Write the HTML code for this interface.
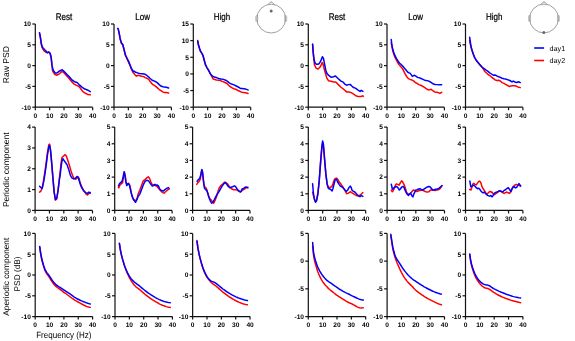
<!DOCTYPE html>
<html><head><meta charset="utf-8"><style>
html,body{margin:0;padding:0;background:#fff;}
body{width:575px;height:341px;overflow:hidden;}
svg{display:block;}
text{font-family:"Liberation Sans",sans-serif;fill:#000;text-rendering:geometricPrecision;}
.ax{stroke:#111;stroke-width:1.2;fill:none;}
.ty{font-size:6.6px;font-weight:bold;text-anchor:end;}
.tx{font-size:6.6px;font-weight:bold;text-anchor:middle;}
.tt{font-size:8px;text-anchor:middle;stroke:#000;stroke-width:0.2px;}
.yl{font-size:8.3px;text-anchor:middle;}
.xl{font-size:8px;text-anchor:middle;}
.lg{font-size:7.2px;}
.cb{stroke:#0000ff;stroke-width:1.5;fill:none;stroke-linejoin:round;stroke-linecap:round;}
.cr{stroke:#ff0000;stroke-width:1.5;fill:none;stroke-linejoin:round;stroke-linecap:round;}
.hd{stroke:#777;stroke-width:0.7;fill:none;}
</style></head><body>
<svg width="575" height="341" viewBox="0 0 575 341" xmlns="http://www.w3.org/2000/svg">
<path d="M35.3 24V107.2H92.7" class="ax"/>
<path d="M32.3 107.2H35.3" class="ax"/>
<path d="M32.3 86.4H35.3" class="ax"/>
<path d="M32.3 65.6H35.3" class="ax"/>
<path d="M32.3 44.8H35.3" class="ax"/>
<path d="M32.3 24H35.3" class="ax"/>
<path d="M35.3 107.2V110.2" class="ax"/>
<path d="M49.65 107.2V110.2" class="ax"/>
<path d="M64 107.2V110.2" class="ax"/>
<path d="M78.35 107.2V110.2" class="ax"/>
<path d="M92.7 107.2V110.2" class="ax"/>
<polyline points="39.52,33.28 40.45,38.32 41.27,44.19 42.09,47.47 43.03,49.35 44.44,51.23 45.96,52.4 47.37,52.87 48.66,52.28 49.48,52.75 50.3,54.28 51.23,58.26 52.58,70.97 54.52,74.19 57.1,75.23 59.68,73.55 61.61,71.61 63.55,72.26 66.13,75.23 68.71,78.06 71.29,81.29 73.87,83.87 76.45,85.42 79.03,86.45 80.97,89.03 82.9,91.61 85.48,93.29 88.06,94.58 90.26,94.84" class="cr"/>
<polyline points="39.52,32.69 40.45,37.38 41.27,43.25 42.09,46.53 43.03,47.94 44.44,49.47 45.96,51.11 47.37,52.63 48.66,52.05 49.48,52.4 50.3,53.81 51.23,57.91 51.94,65.16 53.23,70.32 55.16,72.9 57.1,72.9 59.68,70.97 62.26,69.68 64.19,71.61 66.77,74.19 69.35,76.77 71.94,80 74.52,81.68 77.1,82.58 79.68,85.16 82.26,87.35 84.84,89.03 87.42,89.94 90.26,91.61" class="cb"/>
<path d="M114 24V107.2H171.4" class="ax"/>
<path d="M111 107.2H114" class="ax"/>
<path d="M111 86.4H114" class="ax"/>
<path d="M111 65.6H114" class="ax"/>
<path d="M111 44.8H114" class="ax"/>
<path d="M111 24H114" class="ax"/>
<path d="M114 107.2V110.2" class="ax"/>
<path d="M128.35 107.2V110.2" class="ax"/>
<path d="M142.7 107.2V110.2" class="ax"/>
<path d="M157.05 107.2V110.2" class="ax"/>
<path d="M171.4 107.2V110.2" class="ax"/>
<polyline points="118.39,29.87 119.12,33.09 120.15,38.96 121.32,43.06 122.78,44.97 123.95,49.66 125.41,55.52 127.17,59.19 128.63,62.42 130.1,65.79 131.56,69.45 133.02,72.39 134,73.49 135.17,75.01 136.35,76.19 138.11,75.25 139.87,75.84 141.62,76.19 143.38,76.42 145.14,77.6 146.9,78.18 148.66,79.35 150.42,81.7 152.18,84.05 153.94,85.22 155.7,86.39 157.46,87.92 159.22,89.56 160.98,90.73 162.74,91.91 164.5,92.61 166.26,92.61 168.6,93.08" class="cr"/>
<polyline points="117.6,28.45 118.1,28.4 119.12,32.8 120.15,38.66 121.32,42.77 122.78,44.53 123.95,48.93 125.41,54.79 127.17,58.46 128.63,61.39 130.1,65.06 131.56,68.72 133.32,71.65 134,71.14 135.76,72.32 137.52,72.9 139.28,73.49 141.04,73.84 142.8,73.84 145.14,74.31 146.9,75.48 148.66,77.01 150.42,78.77 152.18,80.18 153.94,80.88 155.7,81.7 157.46,82.87 159.22,84.63 160.98,86.04 162.74,86.74 164.5,86.98 166.26,87.21 168.6,87.92" class="cb"/>
<path d="M193.3 24V107.2H250.7" class="ax"/>
<path d="M190.3 107.2H193.3" class="ax"/>
<path d="M190.3 90.56H193.3" class="ax"/>
<path d="M190.3 73.92H193.3" class="ax"/>
<path d="M190.3 57.28H193.3" class="ax"/>
<path d="M190.3 40.64H193.3" class="ax"/>
<path d="M190.3 24H193.3" class="ax"/>
<path d="M193.3 107.2V110.2" class="ax"/>
<path d="M207.65 107.2V110.2" class="ax"/>
<path d="M222 107.2V110.2" class="ax"/>
<path d="M236.35 107.2V110.2" class="ax"/>
<path d="M250.7 107.2V110.2" class="ax"/>
<polyline points="197.66,40.4 198.39,44.5 199.56,48.46 200.59,51.4 202.05,53.6 203.07,55.79 204.24,60.19 205.41,64.59 206.88,67.52 208.63,70.46 210.1,73.39 211.56,75.88 213.02,78.82 214,79.35 216.35,79.94 218.69,80.18 220.45,80.53 222.21,81.35 224.56,82.29 226.9,83.46 229.25,85.81 231.6,87.57 233.94,88.74 236.29,89.56 238.63,90.73 240.98,91.91 243.33,92.61 245.67,92.84 248.02,93.43" class="cr"/>
<polyline points="197.66,41.13 198.39,44.8 199.56,48.46 200.59,51.4 202.05,53.6 203.07,55.79 204.24,60.19 205.41,64.59 206.88,67.52 208.63,70.46 210.1,73.39 211.56,75.3 213.02,76.32 214,77.01 216.35,77.6 218.69,78.53 221.04,79 223.38,79.35 225.73,80.18 227.49,81.35 229.25,82.87 231.6,84.05 233.94,84.87 236.29,86.04 238.63,87.21 240.39,88.39 242.15,88.39 243.91,88.74 245.67,89.09 248.02,89.91" class="cb"/>
<path d="M308.3 24V107.2H365.7" class="ax"/>
<path d="M305.3 107.2H308.3" class="ax"/>
<path d="M305.3 86.4H308.3" class="ax"/>
<path d="M305.3 65.6H308.3" class="ax"/>
<path d="M305.3 44.8H308.3" class="ax"/>
<path d="M305.3 24H308.3" class="ax"/>
<path d="M308.3 107.2V110.2" class="ax"/>
<path d="M322.65 107.2V110.2" class="ax"/>
<path d="M337 107.2V110.2" class="ax"/>
<path d="M351.35 107.2V110.2" class="ax"/>
<path d="M365.7 107.2V110.2" class="ax"/>
<polyline points="312.6,44.28 313.13,51.67 313.65,56.95 314.45,64.87 316.03,68.04 317.88,69.09 319.72,67.51 321.31,64.87 322.1,62.49 323.16,64.34 324.48,70.15 326.85,78.06 328.43,80.7 331.07,81.23 333.71,82.02 335.56,82.02 336,82.29 338.34,84.63 340.69,86.98 343.03,88.74 344.79,90.26 346.55,91.91 348.89,91.91 351.24,92.61 353.58,94.02 355.93,95.78 358.27,96.6 360.62,96.6 362.96,95.78 363.27,96.54" class="cr"/>
<polyline points="312.6,44.28 313.13,51.67 313.92,59.06 314.97,62.76 316.29,64.34 317.88,64.34 319.2,63.55 320.78,60.91 322.36,56.69 323.42,58.27 324.48,63.55 325.79,70.15 326.85,73.31 328.7,75.43 331.34,77.27 333.45,76.74 335.56,75.95 336,76.42 338.34,78.77 340.69,80.88 343.03,82.05 344.79,84.05 346.55,85.22 348.31,84.63 350.07,84.4 351.82,86.04 353.58,87.57 355.34,88.15 357.1,89.33 358.86,90.73 360.03,91.44 361.2,90.26 362.96,91.44" class="cb"/>
<path d="M387 24V107.2H444.4" class="ax"/>
<path d="M384 107.2H387" class="ax"/>
<path d="M384 86.4H387" class="ax"/>
<path d="M384 65.6H387" class="ax"/>
<path d="M384 44.8H387" class="ax"/>
<path d="M384 24H387" class="ax"/>
<path d="M387 107.2V110.2" class="ax"/>
<path d="M401.35 107.2V110.2" class="ax"/>
<path d="M415.7 107.2V110.2" class="ax"/>
<path d="M430.05 107.2V110.2" class="ax"/>
<path d="M444.4 107.2V110.2" class="ax"/>
<polyline points="391.22,42.9 392.1,47.6 393.12,51.99 394.59,56.39 396.05,59.33 397.51,62.26 398.98,64.46 400.88,66.66 402.63,68.86 404.1,71.79 405.56,74.72 407.02,76.92 408.49,78.68 410,79.35 411.76,79.94 413.52,80.88 415.28,82.52 417.04,83.46 418.8,84.63 420.56,85.22 422.32,86.04 424.08,87.21 425.84,88.39 427.6,89.56 429.35,89.91 431.11,89.33 432.87,90.73 434.63,91.91 436.39,92.26 438.15,92.61 439.91,93.43 441.67,92.26" class="cr"/>
<polyline points="391.22,39.53 391.66,43.2 392.39,47.6 393.56,51.99 395.02,55.66 396.49,58.59 397.95,60.79 399.41,62.99 401.17,64.46 402.63,65.92 404.1,67.83 405.56,69.59 407.02,71.35 408.49,72.82 410,73.14 411.17,74.66 412.35,76.42 414.11,75.25 415.87,76.19 417.62,77.36 419.38,77.83 421.14,78.53 422.9,79.35 424.66,80.18 426.42,80.53 428.18,80.88 429.94,81.7 431.7,82.87 433.46,84.05 435.22,84.4 436.98,84.63 438.74,84.87 441.67,84.63" class="cb"/>
<path d="M465.5 24V107.2H522.9" class="ax"/>
<path d="M462.5 107.2H465.5" class="ax"/>
<path d="M462.5 86.4H465.5" class="ax"/>
<path d="M462.5 65.6H465.5" class="ax"/>
<path d="M462.5 44.8H465.5" class="ax"/>
<path d="M462.5 24H465.5" class="ax"/>
<path d="M465.5 107.2V110.2" class="ax"/>
<path d="M479.85 107.2V110.2" class="ax"/>
<path d="M494.2 107.2V110.2" class="ax"/>
<path d="M508.55 107.2V110.2" class="ax"/>
<path d="M522.9 107.2V110.2" class="ax"/>
<polyline points="469.66,40.26 470.39,44.66 471.56,49.06 473.02,53.46 474.49,57.13 476.24,60.06 478,62.55 479.9,64.9 481.8,66.66 483.56,69.3 485.02,71.79 486.78,73.26 488,74.35 489.76,75.53 491.52,77.05 493.28,78.46 495.04,79.87 496.8,80.57 498.56,80.22 500.32,81.04 502.08,82.57 503.84,83.39 505.6,84.33 507.35,85.26 509.11,86.44 510.87,86.09 512.63,85.73 514.39,85.73 516.15,86.09 517.91,86.91 520.26,87.61" class="cr"/>
<polyline points="469.66,37.33 470.39,42.46 471.12,46.86 472.15,50.53 473.32,54.19 474.78,57.86 476.54,60.79 478.44,62.99 480.34,65.19 482.1,67.39 483.85,68.42 485.76,69.88 488,71.42 489.76,72.83 491.52,74 493.28,75.18 495.04,74.94 496.8,75.88 498.56,76.7 500.32,77.29 502.08,78.23 503.84,78.7 505.6,79.05 507.35,79.63 509.11,80.22 510.87,81.04 512.05,81.98 513.22,81.04 514.98,81.98 516.74,82.57 518.5,81.74 520.26,82.57" class="cb"/>
<path d="M35.1 127.1V210.45H92.5" class="ax"/>
<path d="M32.1 210.45H35.1" class="ax"/>
<path d="M32.1 189.61H35.1" class="ax"/>
<path d="M32.1 168.77H35.1" class="ax"/>
<path d="M32.1 147.94H35.1" class="ax"/>
<path d="M32.1 127.1H35.1" class="ax"/>
<path d="M35.1 210.45V213.45" class="ax"/>
<path d="M49.45 210.45V213.45" class="ax"/>
<path d="M63.8 210.45V213.45" class="ax"/>
<path d="M78.15 210.45V213.45" class="ax"/>
<path d="M92.5 210.45V213.45" class="ax"/>
<polyline points="39.6,192.15 40.92,191.09 42.24,187.66 43.56,180.54 44.88,171.83 46.2,162.59 47.52,152.03 48.84,144.64 49.63,144.11 50.42,149.39 51.48,161.27 52.79,177.11 54.11,192.15 55.43,200.07 56.75,199.01 58.07,190.3 59.39,178.43 60.48,169.19 60.97,163.55 61.94,157.58 63.55,155.97 65.16,154.68 66.45,156.29 67.74,160.32 69.35,165.16 70.97,170.81 72.58,175.65 74.19,178.55 75.81,179.19 77.74,177.26 79.03,178.06 80.16,182.9 81.77,186.94 83.39,190.16 85,192.1 86.13,194.19 87.42,195 88.71,193.71 90.32,192.58" class="cr"/>
<polyline points="39.6,186.34 40.92,187.66 42.24,188.45 43.56,182.38 44.88,174.47 46.2,165.23 47.52,154.67 48.84,146.75 49.63,145.43 50.42,149.39 51.48,159.95 52.79,175.79 54.11,191.62 55.43,199.54 56.75,198.22 58.07,190.3 59.39,179.74 60.32,174.03 60.81,169.19 61.94,161.13 62.9,158.71 64.03,160.32 65.65,162.74 67.26,165.16 68.87,170 70.48,175.65 72.1,178.06 73.71,178.87 75.32,178.55 76.94,176.45 78.06,176.94 79.35,181.29 80.65,185.32 82.26,188.55 83.87,190.97 85.48,192.58 87.42,193.39 89.03,192.1 90.32,193.06" class="cb"/>
<path d="M114.7 127.1V210.45H172.1" class="ax"/>
<path d="M111.7 210.45H114.7" class="ax"/>
<path d="M111.7 193.78H114.7" class="ax"/>
<path d="M111.7 177.11H114.7" class="ax"/>
<path d="M111.7 160.44H114.7" class="ax"/>
<path d="M111.7 143.77H114.7" class="ax"/>
<path d="M111.7 127.1H114.7" class="ax"/>
<path d="M114.7 210.45V213.45" class="ax"/>
<path d="M129.05 210.45V213.45" class="ax"/>
<path d="M143.4 210.45V213.45" class="ax"/>
<path d="M157.75 210.45V213.45" class="ax"/>
<path d="M172.1 210.45V213.45" class="ax"/>
<polyline points="118.39,187.66 118.75,187.87 119.45,186.11 120.27,184.35 121.45,183.77 122.62,182.6 123.44,176.73 124.38,172.04 125.31,176.14 126.13,182.6 127.3,184.94 128.48,183.18 129.65,184.94 130.47,188.46 131.41,193.15 132.58,197.26 133.75,199.6 134.92,200.78 136.09,200.19 137.27,197.84 138,194.33 139.76,190.22 141.52,185.53 143.28,180.84 145.04,179.66 146.79,177.9 148.32,176.73 149.73,178.84 150.9,182.01 152.07,184.35 153.83,184.94 155.59,185.53 157.35,186.7 159.11,189.05 160.87,191.04 162.63,192.57 164.03,193.15 165.56,191.74 167.32,190.22 169.07,189.05" class="cr"/>
<polyline points="118.39,185.82 118.75,185.53 119.45,183.77 120.62,182.6 122.03,181.42 123.2,176.73 124.14,171.8 124.96,175.56 125.78,181.42 126.72,185.53 127.89,183.53 129.06,184.35 130,187.29 130.82,191.39 131.99,196.09 133.16,199.02 134.34,200.78 135.51,202.3 136.68,200.19 138,196.67 139.76,194.33 141.52,189.63 143.28,184.94 145.04,181.42 146.79,180.25 148.55,180.84 149.73,182.6 150.9,184.35 152.31,186.11 153.83,185.53 155,184.35 156.18,185.18 157.35,184.94 158.52,186.11 159.69,189.05 161.45,190.57 163.21,191.04 164.97,189.63 166.73,188.46 168.25,187.52 169.07,188.23" class="cb"/>
<path d="M192.6 127.1V210.45H250" class="ax"/>
<path d="M189.6 210.45H192.6" class="ax"/>
<path d="M189.6 193.78H192.6" class="ax"/>
<path d="M189.6 177.11H192.6" class="ax"/>
<path d="M189.6 160.44H192.6" class="ax"/>
<path d="M189.6 143.77H192.6" class="ax"/>
<path d="M189.6 127.1H192.6" class="ax"/>
<path d="M192.6 210.45V213.45" class="ax"/>
<path d="M206.95 210.45V213.45" class="ax"/>
<path d="M221.3 210.45V213.45" class="ax"/>
<path d="M235.65 210.45V213.45" class="ax"/>
<path d="M250 210.45V213.45" class="ax"/>
<polyline points="196.76,184.35 197.93,182.6 199.1,181.42 200.27,179.08 201.45,172.04 202.03,170.28 202.97,176.73 203.79,184.35 204.96,187.29 206.13,187.87 207.3,191.39 208.48,195.5 210,199.02 211.41,200.19 212.81,202.54 213.75,203.12 214.92,200.78 216.33,197.26 218,191.39 219.17,187.87 220.93,185.53 222.69,184 224.45,182.36 225.62,182.36 227.38,183.77 228.55,185.53 230.31,187.87 232.07,189.05 233.83,189.87 235.36,189.63 236.76,189.87 238.52,191.04 240.28,192.21 241.45,191.04 242.63,190.22 244.38,189.05 246.14,187.87 247.9,187.29" class="cr"/>
<polyline points="197.11,181.42 198.28,179.66 199.69,178.49 200.86,174.38 201.8,169.46 202.62,172.04 203.44,180.25 204.38,187.87 205.55,189.63 206.72,190.22 207.89,193.74 209.06,197.84 210.23,200.78 211.64,203.12 212.81,202.3 214.34,199.6 215.86,196.67 217.5,193.74 218,193.15 219.17,191.39 220.35,189.05 222.1,186.11 223.86,183.77 225.04,182.6 226.44,183.77 227.97,186.11 229.49,187.52 230.9,187.29 232.66,186.7 234.42,185.88 235.59,186.7 236.76,188.46 238.17,190.22 239.69,191.39 240.87,191.74 242.04,189.05 243.56,188.46 244.97,187.29 246.14,187.05 247.9,187.87" class="cb"/>
<path d="M308.3 127.1V210.45H365.7" class="ax"/>
<path d="M305.3 210.45H308.3" class="ax"/>
<path d="M305.3 193.78H308.3" class="ax"/>
<path d="M305.3 177.11H308.3" class="ax"/>
<path d="M305.3 160.44H308.3" class="ax"/>
<path d="M305.3 143.77H308.3" class="ax"/>
<path d="M305.3 127.1H308.3" class="ax"/>
<path d="M308.3 210.45V213.45" class="ax"/>
<path d="M322.65 210.45V213.45" class="ax"/>
<path d="M337 210.45V213.45" class="ax"/>
<path d="M351.35 210.45V213.45" class="ax"/>
<path d="M365.7 210.45V213.45" class="ax"/>
<polyline points="312.6,192.15 313.39,195.58 314.45,199.01 315.5,201.65 316.56,200.07 317.88,192.94 319.2,181.06 320.52,163.91 321.84,148.07 322.63,142.79 323.42,146.23 324.48,158.63 325.79,173.67 327.11,184.23 328.43,187.66 330,187.29 331.76,186.7 332.93,183.77 334.1,180.25 335.28,178.49 336.8,178.14 338.21,180.25 339.62,182.6 341.14,184.35 342.67,186.7 344.07,189.05 345.48,191.39 346.65,193.74 347.83,193.39 349,192.57 350.52,191.74 352.05,192.92 353.46,193.74 355.22,194.91 356.98,195.73 358.73,196.09 360.26,194.91 361.67,193.74 362.84,192.57" class="cr"/>
<polyline points="312.6,183.7 313.39,192.94 314.45,199.54 315.5,202.18 316.56,200.86 317.88,194.26 319.2,181.06 320.52,162.59 321.84,146.75 322.63,140.95 323.42,144.11 324.48,157.31 325.79,173.15 327.11,183.7 328.43,188.45 330,189.05 331.17,189.87 332.11,191.04 332.93,188.46 334.1,183.77 335.28,179.66 336.45,179.08 337.62,182.01 339.15,184.35 340.56,186.35 341.73,186.7 343.14,187.87 344.66,189.63 346.19,191.39 347.59,190.22 348.77,187.87 350.17,186.11 351.11,187.29 352.05,190.22 353.46,191.39 354.86,191.98 356.39,193.74 358.15,195.5 359.91,196.67 361.08,195.5 362.84,196.44" class="cb"/>
<path d="M387.1 127.1V210.45H444.5" class="ax"/>
<path d="M384.1 210.45H387.1" class="ax"/>
<path d="M384.1 193.78H387.1" class="ax"/>
<path d="M384.1 177.11H387.1" class="ax"/>
<path d="M384.1 160.44H387.1" class="ax"/>
<path d="M384.1 143.77H387.1" class="ax"/>
<path d="M384.1 127.1H387.1" class="ax"/>
<path d="M387.1 210.45V213.45" class="ax"/>
<path d="M401.45 210.45V213.45" class="ax"/>
<path d="M415.8 210.45V213.45" class="ax"/>
<path d="M430.15 210.45V213.45" class="ax"/>
<path d="M444.5 210.45V213.45" class="ax"/>
<polyline points="391.29,190.32 392.32,191.76 393.34,190.53 394.37,187.96 395.4,185.19 396.42,183.86 397.76,184.37 399.1,185.19 400.33,182.83 401.56,180.78 402.38,181.29 403.41,183.34 404.44,185.4 405.47,188.48 406.49,192.07 407.52,193.61 408.55,194.43 409.78,194.12 410.81,193.09 411.84,191.76 413.17,190.32 414,190.01 415.03,191.04 416.57,191.55 418.11,191.04 419.65,190.53 421.19,190.32 422.73,190.01 424.27,191.04 425.81,191.76 427.35,192.07 428.89,191.76 429.92,190.53 430.95,190.01 432.28,189.71 433.72,190.01 435.06,190.53 436.6,190.01 438.14,189.71 439.68,188.99 440.91,187.45 441.94,185.91" class="cr"/>
<polyline points="391.29,184.16 391.9,186.94 392.32,189.3 393.14,188.48 394.16,187.65 395.4,186.94 396.73,186.42 398.07,187.96 399.3,190.01 400.33,188.99 401.56,187.24 402.9,186.42 403.92,187.24 404.95,190.01 406.29,192.79 407.52,194.63 408.55,195.45 409.58,193.61 410.6,193.09 411.84,195.66 412.86,196.89 414,193.61 414.82,192.07 415.85,190.01 417.08,189.71 418.62,188.99 419.96,188.68 421.19,189.5 422.73,190.01 424.27,188.99 425.81,187.96 427.35,186.94 428.89,186.42 430.23,186.94 431.46,188.48 432.69,190.01 434.03,190.01 435.57,189.3 437.11,188.99 438.65,188.48 439.89,187.45 441.22,186.22 441.94,185.6" class="cb"/>
<path d="M465.5 127.1V210.45H522.9" class="ax"/>
<path d="M462.5 210.45H465.5" class="ax"/>
<path d="M462.5 193.78H465.5" class="ax"/>
<path d="M462.5 177.11H465.5" class="ax"/>
<path d="M462.5 160.44H465.5" class="ax"/>
<path d="M462.5 143.77H465.5" class="ax"/>
<path d="M462.5 127.1H465.5" class="ax"/>
<path d="M465.5 210.45V213.45" class="ax"/>
<path d="M479.85 210.45V213.45" class="ax"/>
<path d="M494.2 210.45V213.45" class="ax"/>
<path d="M508.55 210.45V213.45" class="ax"/>
<path d="M522.9 210.45V213.45" class="ax"/>
<polyline points="469.6,189.51 470.11,189.5 470.93,190.01 471.65,187.96 472.68,184.37 473.71,183.34 475.04,184.37 476.27,184.88 477.3,183.34 478.33,181.8 479.36,181.09 480.38,181.8 481.21,183.86 481.92,186.42 482.95,188.48 483.98,190.01 485.01,191.55 486.03,193.4 487.06,194.12 488.09,193.09 489.42,191.76 490.66,191.55 491.68,192.38 492,192.07 493.03,193.61 494.26,194.63 495.6,193.81 497.14,192.58 498.68,191.35 500.01,190.53 501.45,191.55 502.79,192.79 504.12,193.4 505.56,192.58 506.89,192.07 508.23,192.79 509.46,193.4 510.49,192.07 511.52,190.01 512.54,187.65 513.57,186.22 514.8,185.19 516.14,184.37 517.47,184.88 518.91,185.19 520.25,186.22" class="cr"/>
<polyline points="469.9,181.09 470.32,184.37 470.93,186.94 471.65,186.42 472.68,185.4 473.71,185.19 475.04,186.22 476.27,187.65 477.51,188.68 478.84,188.27 479.87,189.3 480.9,191.04 481.92,192.07 482.95,192.79 484.29,192.07 485.52,193.4 486.55,194.63 487.78,195.45 488.81,195.87 489.84,196.17 490.86,195.45 492,196.89 493.03,195.66 494.05,193.61 495.6,192.38 497.14,192.07 498.68,191.04 500.22,191.04 501.76,191.76 503.09,191.55 504.33,190.32 505.87,189.5 507.2,188.27 508.23,187.65 509.26,188.99 510.28,190.53 511,191.55 512.03,188.99 513.06,187.24 514.08,186.63 515.42,187.96 516.65,187.24 517.89,185.4 518.91,183.55 519.94,184.88 520.76,185.91" class="cb"/>
<path d="M35.2 233.4V316.6H92.6" class="ax"/>
<path d="M32.2 316.6H35.2" class="ax"/>
<path d="M32.2 295.8H35.2" class="ax"/>
<path d="M32.2 275H35.2" class="ax"/>
<path d="M32.2 254.2H35.2" class="ax"/>
<path d="M32.2 233.4H35.2" class="ax"/>
<path d="M35.2 316.6V319.6" class="ax"/>
<path d="M49.55 316.6V319.6" class="ax"/>
<path d="M63.9 316.6V319.6" class="ax"/>
<path d="M78.25 316.6V319.6" class="ax"/>
<path d="M92.6 316.6V319.6" class="ax"/>
<polyline points="39.66,246.76 40.66,253.8 41.66,259.02 42.66,263.04 43.66,266.58 44.66,269.64 45.66,271.97 46.66,273.67 47.66,275.03 48.66,276.37 49.66,277.87 50.66,279.51 51.66,281.14 52.66,282.66 53.66,283.98 54.66,285.12 55.66,286.09 56.66,286.93 57.66,287.69 58.66,288.4 59.66,289.1 60.66,289.81 61.66,290.55 62.66,291.3 63.66,292.05 64.66,292.79 65.66,293.51 66.66,294.24 67.66,294.98 68.66,295.73 69.66,296.48 70.66,297.24 71.66,297.99 72.66,298.73 73.66,299.43 74.66,300.07 75.66,300.66 76.66,301.21 77.66,301.75 78.66,302.3 79.66,302.86 80.66,303.44 81.66,303.99 82.66,304.53 83.66,305.04 84.66,305.51 85.66,305.96 86.66,306.36 87.66,306.71 88.66,307 89.66,307.23 90.25,307.39" class="cr"/>
<polyline points="39.66,246.47 40.66,253.1 41.66,258.26 42.66,262.12 43.66,265.52 44.66,268.46 45.66,270.7 46.66,272.34 47.66,273.64 48.66,274.9 49.66,276.31 50.66,277.86 51.66,279.42 52.66,280.88 53.66,282.19 54.66,283.33 55.66,284.31 56.66,285.15 57.66,285.89 58.66,286.57 59.66,287.21 60.66,287.85 61.66,288.5 62.66,289.16 63.66,289.82 64.66,290.49 65.66,291.15 66.66,291.8 67.66,292.44 68.66,293.08 69.66,293.72 70.66,294.38 71.66,295.1 72.66,295.85 73.66,296.6 74.66,297.3 75.66,297.92 76.66,298.48 77.66,299 78.66,299.5 79.66,299.99 80.66,300.46 81.66,300.9 82.66,301.33 83.66,301.74 84.66,302.14 85.66,302.52 86.66,302.89 87.66,303.25 88.66,303.58 89.66,303.85 90.25,304.05" class="cb"/>
<path d="M115 233.4V316.6H172.4" class="ax"/>
<path d="M112 316.6H115" class="ax"/>
<path d="M112 295.8H115" class="ax"/>
<path d="M112 275H115" class="ax"/>
<path d="M112 254.2H115" class="ax"/>
<path d="M112 233.4H115" class="ax"/>
<path d="M115 316.6V319.6" class="ax"/>
<path d="M129.35 316.6V319.6" class="ax"/>
<path d="M143.7 316.6V319.6" class="ax"/>
<path d="M158.05 316.6V319.6" class="ax"/>
<path d="M172.4 316.6V319.6" class="ax"/>
<polyline points="119.39,243.28 120.39,249.8 121.39,254.66 122.39,258.6 123.39,262.14 124.39,265.43 125.39,268.35 126.39,270.97 127.39,273.36 128.39,275.55 129.39,277.55 130.39,279.38 131.39,281.07 132.39,282.63 133.39,284.04 134.39,285.29 135.39,286.36 136.39,287.24 137.39,287.98 138.39,288.68 139.39,289.42 140.39,290.24 141.39,291.11 142.39,292 143.39,292.88 144.39,293.73 145.39,294.55 146.39,295.33 147.39,296.09 148.39,296.85 149.39,297.6 150.39,298.33 151.39,299.04 152.39,299.72 153.39,300.36 154.39,300.97 155.39,301.56 156.39,302.13 157.39,302.7 158.39,303.27 159.39,303.83 160.39,304.34 161.39,304.81 162.39,305.23 163.39,305.61 164.39,305.97 165.39,306.31 166.39,306.62 167.39,306.9 168.39,307.14 169.39,307.31 170.25,307.43" class="cr"/>
<polyline points="119.39,243.57 120.39,250.07 121.39,254.85 122.39,258.65 123.39,262.09 124.39,265.25 125.39,268 126.39,270.42 127.39,272.56 128.39,274.46 129.39,276.14 130.39,277.64 131.39,278.96 132.39,280.13 133.39,281.17 134.39,282.09 135.39,282.92 136.39,283.68 137.39,284.41 138.39,285.15 139.39,285.93 140.39,286.74 141.39,287.58 142.39,288.42 143.39,289.23 144.39,290.02 145.39,290.79 146.39,291.54 147.39,292.29 148.39,293.02 149.39,293.74 150.39,294.43 151.39,295.09 152.39,295.73 153.39,296.35 154.39,296.95 155.39,297.54 156.39,298.1 157.39,298.64 158.39,299.14 159.39,299.61 160.39,300.04 161.39,300.45 162.39,300.83 163.39,301.17 164.39,301.48 165.39,301.76 166.39,302.01 167.39,302.25 168.39,302.46 169.39,302.62 170.25,302.73" class="cb"/>
<path d="M192.65 233.4V316.6H250.05" class="ax"/>
<path d="M189.65 316.6H192.65" class="ax"/>
<path d="M189.65 295.8H192.65" class="ax"/>
<path d="M189.65 275H192.65" class="ax"/>
<path d="M189.65 254.2H192.65" class="ax"/>
<path d="M189.65 233.4H192.65" class="ax"/>
<path d="M192.65 316.6V319.6" class="ax"/>
<path d="M207 316.6V319.6" class="ax"/>
<path d="M221.35 316.6V319.6" class="ax"/>
<path d="M235.7 316.6V319.6" class="ax"/>
<path d="M250.05 316.6V319.6" class="ax"/>
<polyline points="196.93,240.57 197.93,247.84 198.93,253.3 199.93,257.59 200.93,261.49 201.93,265.08 202.93,268.21 203.93,270.92 204.93,273.27 205.93,275.3 206.93,277.04 207.93,278.55 208.93,279.88 209.93,281.07 210.93,282.13 211.93,283.05 212.93,283.83 213.93,284.52 214.93,285.23 215.93,286.02 216.93,286.87 217.93,287.76 218.93,288.66 219.93,289.56 220.93,290.43 221.93,291.29 222.93,292.13 223.93,292.93 224.93,293.71 225.93,294.46 226.93,295.2 227.93,295.91 228.93,296.6 229.93,297.25 230.93,297.89 231.93,298.5 232.93,299.1 233.93,299.69 234.93,300.25 235.93,300.78 236.93,301.27 237.93,301.73 238.93,302.17 239.93,302.58 240.93,302.97 241.93,303.35 242.93,303.7 243.93,304.02 244.93,304.29 245.93,304.51 246.93,304.67 247.43,304.73" class="cr"/>
<polyline points="196.93,241.16 197.93,248.21 198.93,253.48 199.93,257.64 200.93,261.41 201.93,264.85 202.93,267.82 203.93,270.4 204.93,272.66 205.93,274.65 206.93,276.39 207.93,277.88 208.93,279.12 209.93,280.11 210.93,280.84 211.93,281.35 212.93,281.72 213.93,282.1 214.93,282.6 215.93,283.27 216.93,284.05 217.93,284.88 218.93,285.72 219.93,286.56 220.93,287.39 221.93,288.2 222.93,288.98 223.93,289.72 224.93,290.44 225.93,291.13 226.93,291.8 227.93,292.46 228.93,293.09 229.93,293.7 230.93,294.27 231.93,294.81 232.93,295.33 233.93,295.84 234.93,296.34 235.93,296.82 236.93,297.27 237.93,297.7 238.93,298.09 239.93,298.46 240.93,298.81 241.93,299.14 242.93,299.46 243.93,299.77 244.93,300.05 245.93,300.3 246.93,300.5 247.43,300.58" class="cb"/>
<path d="M308.3 233.4V316.6H365.7" class="ax"/>
<path d="M305.3 316.6H308.3" class="ax"/>
<path d="M305.3 288.87H308.3" class="ax"/>
<path d="M305.3 261.13H308.3" class="ax"/>
<path d="M305.3 233.4H308.3" class="ax"/>
<path d="M308.3 316.6V319.6" class="ax"/>
<path d="M322.65 316.6V319.6" class="ax"/>
<path d="M337 316.6V319.6" class="ax"/>
<path d="M351.35 316.6V319.6" class="ax"/>
<path d="M365.7 316.6V319.6" class="ax"/>
<polyline points="312.63,246.06 313.63,255.89 314.63,260.95 315.63,264.65 316.63,268.08 317.63,271.16 318.63,273.79 319.63,276.09 320.63,278.13 321.63,279.96 322.63,281.59 323.63,283.03 324.63,284.3 325.63,285.46 326.63,286.54 327.63,287.6 328.63,288.6 329.63,289.49 330.63,290.29 331.63,291.07 332.63,291.89 333.63,292.71 334.63,293.52 335.63,294.3 336.63,295.05 337.63,295.76 338.63,296.45 339.63,297.1 340.63,297.73 341.63,298.33 342.63,298.92 343.63,299.54 344.63,300.18 345.63,300.84 346.63,301.46 347.63,302.02 348.63,302.5 349.63,302.94 350.63,303.36 351.63,303.8 352.63,304.29 353.63,304.81 354.63,305.39 355.63,305.98 356.63,306.56 357.63,307.07 358.63,307.48 359.63,307.76 360.63,307.88 361.63,307.89 362.63,307.83 363.27,307.75" class="cr"/>
<polyline points="312.63,242.4 313.63,253.2 314.63,257.6 315.63,261.02 316.63,264.06 317.63,266.71 318.63,268.91 319.63,270.81 320.63,272.51 321.63,274.06 322.63,275.49 323.63,276.81 324.63,278.02 325.63,279.11 326.63,280.07 327.63,280.9 328.63,281.61 329.63,282.28 330.63,282.97 331.63,283.69 332.63,284.42 333.63,285.13 334.63,285.82 335.63,286.5 336.63,287.2 337.63,287.91 338.63,288.6 339.63,289.25 340.63,289.86 341.63,290.45 342.63,291.04 343.63,291.61 344.63,292.16 345.63,292.66 346.63,293.12 347.63,293.57 348.63,294.04 349.63,294.54 350.63,295.06 351.63,295.58 352.63,296.08 353.63,296.55 354.63,297.02 355.63,297.48 356.63,297.95 357.63,298.41 358.63,298.84 359.63,299.19 360.63,299.47 361.63,299.7 362.63,299.9 363.27,300.06" class="cb"/>
<path d="M387.1 233.4V316.6H444.5" class="ax"/>
<path d="M384.1 316.6H387.1" class="ax"/>
<path d="M384.1 288.87H387.1" class="ax"/>
<path d="M384.1 261.13H387.1" class="ax"/>
<path d="M384.1 233.4H387.1" class="ax"/>
<path d="M387.1 316.6V319.6" class="ax"/>
<path d="M401.45 316.6V319.6" class="ax"/>
<path d="M415.8 316.6V319.6" class="ax"/>
<path d="M430.15 316.6V319.6" class="ax"/>
<path d="M444.5 316.6V319.6" class="ax"/>
<polyline points="390.81,235.6 391.81,242.49 392.81,248.79 393.81,253.08 394.81,256.52 395.81,259.58 396.81,262.17 397.81,264.54 398.81,266.84 399.81,269.06 400.81,271.15 401.81,273.11 402.81,274.92 403.81,276.6 404.81,278.15 405.81,279.57 406.81,280.87 407.81,282.05 408.81,283.13 409.81,284.13 410.81,285.1 411.81,286.09 412.81,287.12 413.81,288.2 414.81,289.27 415.81,290.26 416.81,291.15 417.81,291.96 418.81,292.7 419.81,293.4 420.81,294.09 421.81,294.78 422.81,295.47 423.81,296.16 424.81,296.81 425.81,297.44 426.81,298.02 427.81,298.57 428.81,299.09 429.81,299.6 430.81,300.1 431.81,300.6 432.81,301.1 433.81,301.6 434.81,302.1 435.81,302.59 436.81,303.07 437.81,303.52 438.81,303.92 439.81,304.26 440.81,304.52 441.43,304.7" class="cr"/>
<polyline points="390.81,234.28 391.81,241.01 392.81,247.09 393.81,251.33 394.81,254.72 395.81,257.39 396.81,259.24 397.81,260.7 398.81,262.14 399.81,263.66 400.81,265.24 401.81,266.8 402.81,268.31 403.81,269.75 404.81,271.11 405.81,272.39 406.81,273.58 407.81,274.69 408.81,275.73 409.81,276.71 410.81,277.64 411.81,278.5 412.81,279.29 413.81,280.02 414.81,280.71 415.81,281.39 416.81,282.06 417.81,282.72 418.81,283.38 419.81,284.04 420.81,284.7 421.81,285.34 422.81,285.98 423.81,286.59 424.81,287.17 425.81,287.71 426.81,288.24 427.81,288.75 428.81,289.25 429.81,289.75 430.81,290.24 431.81,290.73 432.81,291.2 433.81,291.64 434.81,292.05 435.81,292.43 436.81,292.79 437.81,293.13 438.81,293.45 439.81,293.75 440.81,293.98 441.43,294.15" class="cb"/>
<path d="M465.5 233.4V316.6H522.9" class="ax"/>
<path d="M462.5 316.6H465.5" class="ax"/>
<path d="M462.5 295.8H465.5" class="ax"/>
<path d="M462.5 275H465.5" class="ax"/>
<path d="M462.5 254.2H465.5" class="ax"/>
<path d="M462.5 233.4H465.5" class="ax"/>
<path d="M465.5 316.6V319.6" class="ax"/>
<path d="M479.85 316.6V319.6" class="ax"/>
<path d="M494.2 316.6V319.6" class="ax"/>
<path d="M508.55 316.6V319.6" class="ax"/>
<path d="M522.9 316.6V319.6" class="ax"/>
<polyline points="469.7,254.62 470.7,261.5 471.7,266.06 472.7,269.48 473.7,272.49 474.7,275.16 475.7,277.36 476.7,279.2 477.7,280.78 478.7,282.18 479.7,283.44 480.7,284.59 481.7,285.62 482.7,286.51 483.7,287.22 484.7,287.72 485.7,288.04 486.7,288.25 487.7,288.5 488.7,288.9 489.7,289.48 490.7,290.17 491.7,290.9 492.7,291.62 493.7,292.31 494.7,292.96 495.7,293.58 496.7,294.17 497.7,294.73 498.7,295.27 499.7,295.78 500.7,296.27 501.7,296.73 502.7,297.18 503.7,297.59 504.7,297.98 505.7,298.35 506.7,298.72 507.7,299.07 508.7,299.44 509.7,299.8 510.7,300.15 511.7,300.47 512.7,300.77 513.7,301.05 514.7,301.31 515.7,301.56 516.7,301.81 517.7,302.06 518.7,302.29 519.7,302.5 520.61,302.66" class="cr"/>
<polyline points="469.7,253.96 470.7,260.76 471.7,264.87 472.7,267.95 473.7,270.77 474.7,273.29 475.7,275.4 476.7,277.19 477.7,278.7 478.7,279.99 479.7,281.1 480.7,282.06 481.7,282.89 482.7,283.6 483.7,284.17 484.7,284.57 485.7,284.79 486.7,284.91 487.7,285.09 488.7,285.43 489.7,285.97 490.7,286.64 491.7,287.34 492.7,288 493.7,288.6 494.7,289.15 495.7,289.67 496.7,290.18 497.7,290.67 498.7,291.14 499.7,291.58 500.7,292 501.7,292.4 502.7,292.79 503.7,293.18 504.7,293.57 505.7,293.96 506.7,294.34 507.7,294.71 508.7,295.07 509.7,295.41 510.7,295.75 511.7,296.07 512.7,296.37 513.7,296.64 514.7,296.88 515.7,297.11 516.7,297.32 517.7,297.52 518.7,297.71 519.7,297.87 520.61,298" class="cb"/>
<ellipse cx="256.7" cy="18.6" rx="1.1" ry="3.4" fill="#eee" stroke="#999" stroke-width="0.6"/><ellipse cx="285.7" cy="18.6" rx="1.1" ry="3.4" fill="#eee" stroke="#999" stroke-width="0.6"/><path d="M268.2 4.5L270.3 2.3Q271.2 1.4 272.1 2.3L274.2 4.5" fill="#fff" stroke="#777" stroke-width="0.8"/><circle cx="271.2" cy="18.6" r="14.4" fill="none" stroke="#777" stroke-width="0.7"/><circle cx="271.2" cy="11.1" r="1.5" fill="#6a6a6a"/>
<ellipse cx="529.5" cy="18.5" rx="1.1" ry="3.4" fill="#eee" stroke="#999" stroke-width="0.6"/><ellipse cx="558.5" cy="18.5" rx="1.1" ry="3.4" fill="#eee" stroke="#999" stroke-width="0.6"/><path d="M541 4.4L543.1 2.2Q544 1.3 544.9 2.2L547 4.4" fill="#fff" stroke="#777" stroke-width="0.8"/><circle cx="544" cy="18.5" r="14.4" fill="none" stroke="#777" stroke-width="0.7"/><circle cx="543.8" cy="32.6" r="1.5" fill="#6a6a6a"/>
<path d="M534.2 48H544.1" stroke="#00f" stroke-width="1.6"/>
<path d="M534.2 60.5H544.1" stroke="#f00" stroke-width="1.6"/>
<g style="filter:grayscale(1)">
<text x="31" y="109.5" class="ty">-10</text>
<text x="31" y="88.7" class="ty">-5</text>
<text x="31" y="67.9" class="ty">0</text>
<text x="31" y="47.1" class="ty">5</text>
<text x="31" y="26.3" class="ty">10</text>
<text x="35.3" y="118" class="tx">0</text>
<text x="49.65" y="118" class="tx">10</text>
<text x="64" y="118" class="tx">20</text>
<text x="78.35" y="118" class="tx">30</text>
<text x="92.7" y="118" class="tx">40</text>
<text x="109.7" y="109.5" class="ty">-10</text>
<text x="109.7" y="88.7" class="ty">-5</text>
<text x="109.7" y="67.9" class="ty">0</text>
<text x="109.7" y="47.1" class="ty">5</text>
<text x="109.7" y="26.3" class="ty">10</text>
<text x="114" y="118" class="tx">0</text>
<text x="128.35" y="118" class="tx">10</text>
<text x="142.7" y="118" class="tx">20</text>
<text x="157.05" y="118" class="tx">30</text>
<text x="171.4" y="118" class="tx">40</text>
<text x="189" y="109.5" class="ty">-10</text>
<text x="189" y="92.86" class="ty">-5</text>
<text x="189" y="76.22" class="ty">0</text>
<text x="189" y="59.58" class="ty">5</text>
<text x="189" y="42.94" class="ty">10</text>
<text x="189" y="26.3" class="ty">15</text>
<text x="193.3" y="118" class="tx">0</text>
<text x="207.65" y="118" class="tx">10</text>
<text x="222" y="118" class="tx">20</text>
<text x="236.35" y="118" class="tx">30</text>
<text x="250.7" y="118" class="tx">40</text>
<text x="304" y="109.5" class="ty">-10</text>
<text x="304" y="88.7" class="ty">-5</text>
<text x="304" y="67.9" class="ty">0</text>
<text x="304" y="47.1" class="ty">5</text>
<text x="304" y="26.3" class="ty">10</text>
<text x="308.3" y="118" class="tx">0</text>
<text x="322.65" y="118" class="tx">10</text>
<text x="337" y="118" class="tx">20</text>
<text x="351.35" y="118" class="tx">30</text>
<text x="365.7" y="118" class="tx">40</text>
<text x="382.7" y="109.5" class="ty">-10</text>
<text x="382.7" y="88.7" class="ty">-5</text>
<text x="382.7" y="67.9" class="ty">0</text>
<text x="382.7" y="47.1" class="ty">5</text>
<text x="382.7" y="26.3" class="ty">10</text>
<text x="387" y="118" class="tx">0</text>
<text x="401.35" y="118" class="tx">10</text>
<text x="415.7" y="118" class="tx">20</text>
<text x="430.05" y="118" class="tx">30</text>
<text x="444.4" y="118" class="tx">40</text>
<text x="461.2" y="109.5" class="ty">-10</text>
<text x="461.2" y="88.7" class="ty">-5</text>
<text x="461.2" y="67.9" class="ty">0</text>
<text x="461.2" y="47.1" class="ty">5</text>
<text x="461.2" y="26.3" class="ty">10</text>
<text x="465.5" y="118" class="tx">0</text>
<text x="479.85" y="118" class="tx">10</text>
<text x="494.2" y="118" class="tx">20</text>
<text x="508.55" y="118" class="tx">30</text>
<text x="522.9" y="118" class="tx">40</text>
<text x="30.8" y="212.75" class="ty">0</text>
<text x="30.8" y="191.91" class="ty">1</text>
<text x="30.8" y="171.07" class="ty">2</text>
<text x="30.8" y="150.24" class="ty">3</text>
<text x="30.8" y="129.4" class="ty">4</text>
<text x="35.1" y="221.25" class="tx">0</text>
<text x="49.45" y="221.25" class="tx">10</text>
<text x="63.8" y="221.25" class="tx">20</text>
<text x="78.15" y="221.25" class="tx">30</text>
<text x="92.5" y="221.25" class="tx">40</text>
<text x="110.4" y="212.75" class="ty">0</text>
<text x="110.4" y="196.08" class="ty">1</text>
<text x="110.4" y="179.41" class="ty">2</text>
<text x="110.4" y="162.74" class="ty">3</text>
<text x="110.4" y="146.07" class="ty">4</text>
<text x="110.4" y="129.4" class="ty">5</text>
<text x="114.7" y="221.25" class="tx">0</text>
<text x="129.05" y="221.25" class="tx">10</text>
<text x="143.4" y="221.25" class="tx">20</text>
<text x="157.75" y="221.25" class="tx">30</text>
<text x="172.1" y="221.25" class="tx">40</text>
<text x="188.3" y="212.75" class="ty">0</text>
<text x="188.3" y="196.08" class="ty">1</text>
<text x="188.3" y="179.41" class="ty">2</text>
<text x="188.3" y="162.74" class="ty">3</text>
<text x="188.3" y="146.07" class="ty">4</text>
<text x="188.3" y="129.4" class="ty">5</text>
<text x="192.6" y="221.25" class="tx">0</text>
<text x="206.95" y="221.25" class="tx">10</text>
<text x="221.3" y="221.25" class="tx">20</text>
<text x="235.65" y="221.25" class="tx">30</text>
<text x="250" y="221.25" class="tx">40</text>
<text x="304" y="212.75" class="ty">0</text>
<text x="304" y="196.08" class="ty">1</text>
<text x="304" y="179.41" class="ty">2</text>
<text x="304" y="162.74" class="ty">3</text>
<text x="304" y="146.07" class="ty">4</text>
<text x="304" y="129.4" class="ty">5</text>
<text x="308.3" y="221.25" class="tx">0</text>
<text x="322.65" y="221.25" class="tx">10</text>
<text x="337" y="221.25" class="tx">20</text>
<text x="351.35" y="221.25" class="tx">30</text>
<text x="365.7" y="221.25" class="tx">40</text>
<text x="382.8" y="212.75" class="ty">0</text>
<text x="382.8" y="196.08" class="ty">1</text>
<text x="382.8" y="179.41" class="ty">2</text>
<text x="382.8" y="162.74" class="ty">3</text>
<text x="382.8" y="146.07" class="ty">4</text>
<text x="382.8" y="129.4" class="ty">5</text>
<text x="387.1" y="221.25" class="tx">0</text>
<text x="401.45" y="221.25" class="tx">10</text>
<text x="415.8" y="221.25" class="tx">20</text>
<text x="430.15" y="221.25" class="tx">30</text>
<text x="444.5" y="221.25" class="tx">40</text>
<text x="461.2" y="212.75" class="ty">0</text>
<text x="461.2" y="196.08" class="ty">1</text>
<text x="461.2" y="179.41" class="ty">2</text>
<text x="461.2" y="162.74" class="ty">3</text>
<text x="461.2" y="146.07" class="ty">4</text>
<text x="461.2" y="129.4" class="ty">5</text>
<text x="465.5" y="221.25" class="tx">0</text>
<text x="479.85" y="221.25" class="tx">10</text>
<text x="494.2" y="221.25" class="tx">20</text>
<text x="508.55" y="221.25" class="tx">30</text>
<text x="522.9" y="221.25" class="tx">40</text>
<text x="30.9" y="318.9" class="ty">-10</text>
<text x="30.9" y="298.1" class="ty">-5</text>
<text x="30.9" y="277.3" class="ty">0</text>
<text x="30.9" y="256.5" class="ty">5</text>
<text x="30.9" y="235.7" class="ty">10</text>
<text x="35.2" y="327.4" class="tx">0</text>
<text x="49.55" y="327.4" class="tx">10</text>
<text x="63.9" y="327.4" class="tx">20</text>
<text x="78.25" y="327.4" class="tx">30</text>
<text x="92.6" y="327.4" class="tx">40</text>
<text x="110.7" y="318.9" class="ty">-10</text>
<text x="110.7" y="298.1" class="ty">-5</text>
<text x="110.7" y="277.3" class="ty">0</text>
<text x="110.7" y="256.5" class="ty">5</text>
<text x="110.7" y="235.7" class="ty">10</text>
<text x="115" y="327.4" class="tx">0</text>
<text x="129.35" y="327.4" class="tx">10</text>
<text x="143.7" y="327.4" class="tx">20</text>
<text x="158.05" y="327.4" class="tx">30</text>
<text x="172.4" y="327.4" class="tx">40</text>
<text x="188.35" y="318.9" class="ty">-10</text>
<text x="188.35" y="298.1" class="ty">-5</text>
<text x="188.35" y="277.3" class="ty">0</text>
<text x="188.35" y="256.5" class="ty">5</text>
<text x="188.35" y="235.7" class="ty">10</text>
<text x="192.65" y="327.4" class="tx">0</text>
<text x="207" y="327.4" class="tx">10</text>
<text x="221.35" y="327.4" class="tx">20</text>
<text x="235.7" y="327.4" class="tx">30</text>
<text x="250.05" y="327.4" class="tx">40</text>
<text x="304" y="318.9" class="ty">-10</text>
<text x="304" y="291.17" class="ty">-5</text>
<text x="304" y="263.43" class="ty">0</text>
<text x="304" y="235.7" class="ty">5</text>
<text x="308.3" y="327.4" class="tx">0</text>
<text x="322.65" y="327.4" class="tx">10</text>
<text x="337" y="327.4" class="tx">20</text>
<text x="351.35" y="327.4" class="tx">30</text>
<text x="365.7" y="327.4" class="tx">40</text>
<text x="382.8" y="318.9" class="ty">-10</text>
<text x="382.8" y="291.17" class="ty">-5</text>
<text x="382.8" y="263.43" class="ty">0</text>
<text x="382.8" y="235.7" class="ty">5</text>
<text x="387.1" y="327.4" class="tx">0</text>
<text x="401.45" y="327.4" class="tx">10</text>
<text x="415.8" y="327.4" class="tx">20</text>
<text x="430.15" y="327.4" class="tx">30</text>
<text x="444.5" y="327.4" class="tx">40</text>
<text x="461.2" y="318.9" class="ty">-10</text>
<text x="461.2" y="298.1" class="ty">-5</text>
<text x="461.2" y="277.3" class="ty">0</text>
<text x="461.2" y="256.5" class="ty">5</text>
<text x="461.2" y="235.7" class="ty">10</text>
<text x="465.5" y="327.4" class="tx">0</text>
<text x="479.85" y="327.4" class="tx">10</text>
<text x="494.2" y="327.4" class="tx">20</text>
<text x="508.55" y="327.4" class="tx">30</text>
<text x="522.9" y="327.4" class="tx">40</text>
<text transform="translate(64 19.5) scale(1 1.22)" class="tt">Rest</text>
<text transform="translate(142.7 19.5) scale(1 1.22)" class="tt">Low</text>
<text transform="translate(222 19.5) scale(1 1.22)" class="tt">High</text>
<text transform="translate(337 19.5) scale(1 1.22)" class="tt">Rest</text>
<text transform="translate(415.7 19.5) scale(1 1.22)" class="tt">Low</text>
<text transform="translate(494.2 19.5) scale(1 1.22)" class="tt">High</text>
<text transform="translate(8.8 64.7) rotate(-90)" class="yl" style="font-size:8.6px">Raw PSD</text>
<text transform="translate(8.8 169.8) rotate(-90)" class="yl" style="font-size:8.45px">Periodic component</text>
<text transform="translate(8.6 276.7) rotate(-90)" class="yl">Aperiodic component</text>
<text transform="translate(20 273.9) rotate(-90)" class="yl">PSD (dB)</text>
<text transform="translate(63.8 337.6) scale(1 1.12)" class="xl">Frequency (Hz)</text>
<text x="549.6" y="50.7" class="lg">day1</text>
<text x="549.6" y="63.1" class="lg">day2</text>
</g>
</svg>
</body></html>
